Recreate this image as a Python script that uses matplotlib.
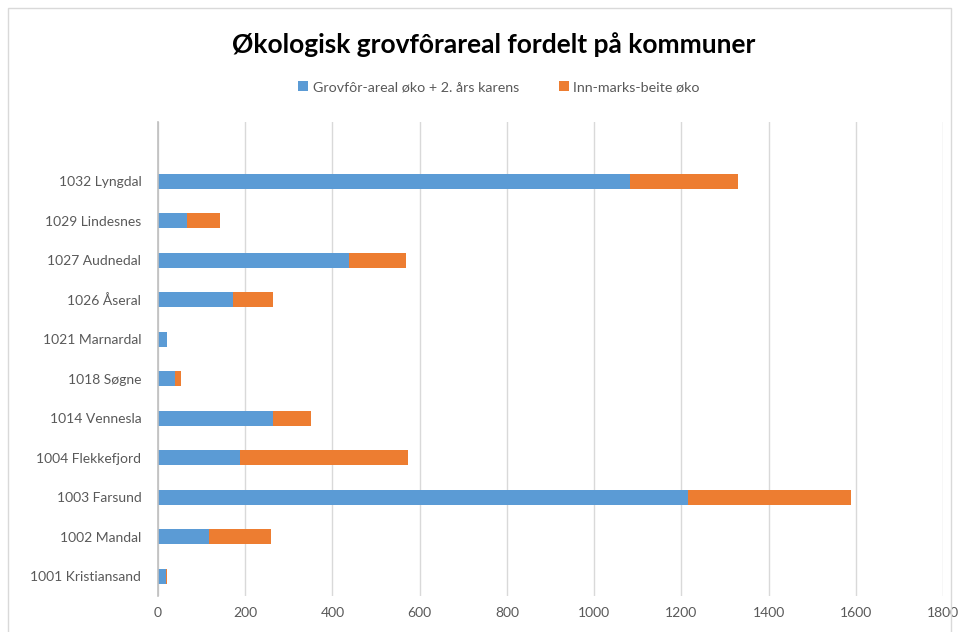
import matplotlib
matplotlib.use("Agg")
import matplotlib.pyplot as plt
from matplotlib.patches import Rectangle

categories = ["1001 Kristiansand", "1002 Mandal", "1003 Farsund", "1004 Flekkefjord",
              "1014 Vennesla", "1018 Søgne", "1021 Marnardal", "1026 Åseral",
              "1027 Audnedal", "1029 Lindesnes", "1032 Lyngdal"]
grovfor = [18, 118, 1215, 187, 263, 39, 21, 173, 439, 67, 1082]
innmark = [2, 140, 373, 387, 87, 13, 0, 90, 129, 76, 247]
series_names = ["Grovfôr-areal øko + 2. års karens", "Inn-marks-beite øko"]
xticks = [0, 200, 400, 600, 800, 1000, 1200, 1400, 1600, 1800]

BLUE = "#5B9BD5"
ORANGE = "#ED7D31"
GRAY = "#595959"

plt.rcParams['font.family'] = ['Lato', 'DejaVu Sans']

fig = plt.figure(figsize=(9.58, 6.32), dpi=100)
W, H = 958, 632
ax = fig.add_axes([158 / W, (H - 596) / H, (943 - 158) / W, (596 - 122) / H])

y = list(range(len(categories)))
ax.barh(y, grovfor, height=0.39, color=BLUE, label=series_names[0], zorder=3)
ax.barh(y, innmark, left=grovfor, height=0.39, color=ORANGE, label=series_names[1], zorder=3)

ax.set_xlim(0, 1800)
ax.set_ylim(-0.5, len(categories) + 0.5)
ax.set_xticks(xticks)
ax.set_xticklabels([str(v) for v in xticks])
ax.set_yticks(y)
ax.set_yticklabels(categories)
ax.tick_params(axis='both', length=0, colors=GRAY, labelsize=10)
ax.tick_params(axis='x', pad=8)
ax.tick_params(axis='y', pad=12)
ax.grid(axis='x', color="#D9D9D9", linewidth=1, zorder=0)
for s in ["top", "right", "bottom"]:
    ax.spines[s].set_visible(False)
ax.spines["left"].set_color("#BFBFBF")
ax.spines["left"].set_linewidth(1.2)
ax.spines["left"].set_zorder(4)

fig.text(494 / W, 1 - 45 / H, "Økologisk grovfôrareal fordelt på kommuner",
         ha="center", va="center", fontsize=19, fontweight="bold", color="black")

handles, labels = ax.get_legend_handles_labels()
fig.legend(handles, labels, loc="center", bbox_to_anchor=(499 / W, 1 - 87 / H), ncol=2,
           frameon=False, fontsize=10.3, labelcolor=GRAY, handlelength=0.7, handleheight=0.7,
           handletextpad=0.3, columnspacing=2.8)

fig.patches.append(Rectangle((8 / W, -0.05), (951 - 8) / W, 1 - 8 / H + 0.05,
                             transform=fig.transFigure, fill=False,
                             edgecolor="#D9D9D9", linewidth=1))

fig.savefig("out.png", dpi=100, facecolor="white")
